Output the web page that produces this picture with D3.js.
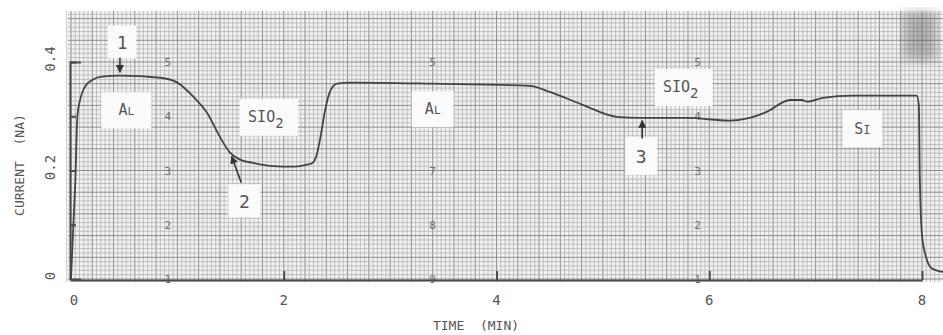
<!DOCTYPE html>
<html>
<head>
<meta charset="utf-8">
<script src="https://cdn.jsdelivr.net/npm/d3@7"></script>
<style>
  body { margin: 0; background: #fff; }
  svg { display: block; }
  text { font-family: "DejaVu Sans Mono", monospace; fill: #555; }
</style>
</head>
<body>
<svg id="chart" width="943" height="335"></svg>
<script>
// recorder trace
const timeMin = [0, 0.02, 0.04, 0.06, 0.085, 0.13, 0.20, 0.29, 0.46, 0.84, 1.0, 1.15, 1.28, 1.40, 1.49, 1.59,
  1.71, 1.90, 2.09, 2.20, 2.27, 2.31, 2.34, 2.39, 2.43, 2.50, 2.62, 3.40, 4.31, 4.50, 4.81, 5.13, 5.35,
  5.79, 6.19, 6.38, 6.54, 6.76, 6.87, 6.92, 7.07, 7.35, 7.95, 7.97, 7.98, 8.0, 8.04, 8.09, 8.2];
const currentNA = [0, 0.09, 0.177, 0.30, 0.33, 0.354, 0.367, 0.373, 0.375, 0.371, 0.362, 0.336, 0.306, 0.262, 0.234, 0.22,
  0.214, 0.208, 0.207, 0.21, 0.214, 0.229, 0.256, 0.312, 0.343, 0.36, 0.362, 0.36, 0.356, 0.345, 0.321, 0.299, 0.297,
  0.297, 0.292, 0.297, 0.308, 0.33, 0.33, 0.327, 0.334, 0.338, 0.338, 0.321, 0.183, 0.081, 0.039, 0.02, 0.013];

const xTicks = [0, 2, 4, 6, 8];
const yTicks = [0, 0.2, 0.4];
const yTickLabels = ['0', '0.2', '0.4'];
const yAxisTicks = [0.1, 0.2, 0.3, 0.4];

// numbers printed on the chart paper
const paperCols = [0.91, 3.40, 5.89];
const paperRows = [0, 0.1, 0.2, 0.3, 0.4];
const paperNums = [['1', '2', '3', '4', '5'], ['9', '8', '7', '', '5'], ['1', '2', '3', '4', '5']];

// region labels and arrows
const labelText = ['1', 'AL', 'SIO2', '2', 'AL', '3', 'SIO2', 'SI'];
const labelTime = [0.48, 0.52, 1.86, 1.63, 3.40, 5.36, 5.76, 7.44];
const labelCurrent = [0.437, 0.311, 0.298, 0.144, 0.313, 0.227, 0.353, 0.277];
const arrowFrom = [[0.46, 0.408], [1.60, 0.178], [5.37, 0.259]];
const arrowTo = [[0.46, 0.381], [1.51, 0.226], [5.37, 0.292]];

const svg = d3.select('#chart');

const x = d3.scaleLinear().domain([0, 8]).range([71, 922]);
const y = d3.scaleLinear().domain([0, 0.4]).range([279, 62]);

// chart paper
const gx0 = x.invert(68), gx1 = x.invert(943);
const gy0 = y.invert(282), gy1 = y.invert(11);
const paper = svg.append('g').attr('class', 'paper');

paper.append('rect')
  .attr('x', x(gx0)).attr('y', y(gy1))
  .attr('width', x(gx1) - x(gx0)).attr('height', y(gy0) - y(gy1))
  .attr('fill', '#f2f2f2');

const vLines = [-0.04].concat(d3.range(0, Math.ceil(gx1 / 0.04) + 1).map(i => i * 0.04).filter(d => d <= gx1));
paper.selectAll('line.v')
  .data(vLines)
  .join('line')
  .attr('class', 'v')
  .attr('x1', d => x(d)).attr('x2', d => x(d))
  .attr('y1', y(gy1)).attr('y2', y(gy0))
  .attr('stroke', d => (Math.round(d / 0.04) % 5 === 0) ? '#8e8e8e' : '#b4b4b4')
  .attr('stroke-width', d => (Math.round(d / 0.04) % 5 === 0) ? 1 : 0.8);

const hLines = d3.range(0, Math.ceil(gy1 / 0.008) + 1).map(i => i * 0.008).filter(d => d <= gy1);
paper.selectAll('line.h')
  .data(hLines)
  .join('line')
  .attr('class', 'h')
  .attr('x1', x(gx0)).attr('x2', x(gx1))
  .attr('y1', d => y(d)).attr('y2', d => y(d))
  .attr('stroke', d => (Math.round(d / 0.008) % 5 === 0) ? '#8e8e8e' : '#b4b4b4')
  .attr('stroke-width', d => (Math.round(d / 0.008) % 5 === 0) ? 1 : 0.8);

// dark smudge on the scan, top right
const defs = svg.append('defs');
defs.append('filter').attr('id', 'blur')
  .append('feGaussianBlur').attr('stdDeviation', 6);
paper.append('rect')
  .attr('x', 903).attr('y', 12).attr('width', 34).attr('height', 48)
  .attr('fill', '#444').attr('opacity', 0.35)
  .attr('filter', 'url(#blur)');

// printed paper numbers
paperCols.forEach((c, ci) => {
  paper.selectAll(null)
    .data(paperRows)
    .join('text')
    .attr('x', x(c))
    .attr('y', d => y(d) + 4)
    .attr('text-anchor', 'middle')
    .attr('font-size', 11)
    .style('fill', '#6e6e6e')
    .text((d, i) => paperNums[ci][i]);
});

// axes
const leftAxis = d3.axisRight(y).tickValues(yAxisTicks).tickSize(6).tickSizeOuter(11).tickFormat('');
svg.append('g')
  .attr('transform', `translate(${x(0) - 1},0)`)
  .call(leftAxis)
  .call(g => g.selectAll('path, line').attr('stroke', '#4a4a4a').attr('stroke-width', 2));

const bottomAxis = d3.axisTop(x).tickValues([2, 4, 6, 8]).tickSize(9).tickSizeOuter(0).tickFormat('');
svg.append('g')
  .attr('transform', `translate(0,${y(0) + 1})`)
  .call(bottomAxis)
  .call(g => g.selectAll('path, line').attr('stroke', '#4a4a4a').attr('stroke-width', 2));

// tick labels
svg.selectAll('text.xt')
  .data(xTicks)
  .join('text')
  .attr('class', 'xt')
  .attr('x', d => x(d) + (d === 0 ? 3 : 0))
  .attr('y', 305)
  .attr('text-anchor', 'middle')
  .attr('font-size', 14)
  .text(d => d);

svg.selectAll('text.yt')
  .data(yTicks)
  .join('text')
  .attr('class', 'yt')
  .attr('transform', d => `translate(55,${y(d) - 3}) rotate(-90)`)
  .attr('text-anchor', 'middle')
  .attr('font-size', 14)
  .text((d, i) => yTickLabels[i]);

svg.append('text')
  .attr('transform', `translate(24,${y(0.21)}) rotate(-90)`)
  .attr('text-anchor', 'middle')
  .attr('font-size', 13)
  .attr('xml:space', 'preserve')
  .text('CURRENT  (NA)');

svg.append('text')
  .attr('x', 476).attr('y', 330)
  .attr('text-anchor', 'middle')
  .attr('font-size', 13)
  .attr('xml:space', 'preserve')
  .text('TIME  (MIN)');

// trace
const trace = timeMin.map((t, i) => ({ t: t, v: currentNA[i] }));
const line = d3.line()
  .x(d => x(d.t))
  .y(d => y(d.v))
  .curve(d3.curveMonotoneX);

svg.append('path')
  .datum(trace)
  .attr('fill', 'none')
  .attr('stroke', '#444')
  .attr('stroke-width', 1.8)
  .attr('d', line);

// label boxes
const boxSize = { '1': [28, 33], 'AL': [50, 36], 'SIO2': [58, 37], '2': [32, 33], '3': [32, 38], 'SI': [39, 37] };
const labels = svg.selectAll('g.lab')
  .data(labelText.map((s, i) => ({ s: s, t: labelTime[i], v: labelCurrent[i], i: i })))
  .join('g')
  .attr('class', 'lab')
  .attr('transform', d => `translate(${x(d.t)},${y(d.v)})`);

labels.append('rect')
  .attr('x', d => -boxSize[d.s][0] / 2 - (d.i === 4 ? -4 : 0))
  .attr('y', d => -boxSize[d.s][1] / 2)
  .attr('width', d => boxSize[d.s][0] - (d.i === 4 ? 8 : 0))
  .attr('height', d => boxSize[d.s][1])
  .attr('fill', '#fbfbfb');

labels.each(function(d) {
  const g = d3.select(this);
  const t = g.append('text').attr('text-anchor', 'middle').attr('y', 5);
  if (d.s === 'AL') {
    t.append('tspan').attr('font-size', 15).text('A');
    t.append('tspan').attr('font-size', 11).text('L');
  } else if (d.s === 'SIO2') {
    t.attr('x', -3);
    t.append('tspan').attr('font-size', 15).text('SIO');
    t.append('tspan').attr('font-size', 14).attr('dy', 6).text('2');
  } else if (d.s === 'SI') {
    t.append('tspan').attr('font-size', 15).text('S');
    t.append('tspan').attr('font-size', 12).text('I');
  } else {
    t.attr('y', 7).attr('font-size', 18).text(d.s);
  }
});

// arrows
defs.append('marker')
  .attr('id', 'head')
  .attr('viewBox', '0 0 10 10')
  .attr('refX', 9).attr('refY', 5)
  .attr('markerWidth', 5).attr('markerHeight', 5)
  .attr('orient', 'auto')
  .append('path')
  .attr('d', 'M0,0L10,5L0,10Z')
  .attr('fill', '#333');

svg.selectAll('line.arrow')
  .data(arrowFrom.map((f, i) => ({ f: f, to: arrowTo[i] })))
  .join('line')
  .attr('class', 'arrow')
  .attr('x1', d => x(d.f[0])).attr('y1', d => y(d.f[1]))
  .attr('x2', d => x(d.to[0])).attr('y2', d => y(d.to[1]))
  .attr('stroke', '#333')
  .attr('stroke-width', 1.6)
  .attr('marker-end', 'url(#head)');
</script>
</body>
</html>
